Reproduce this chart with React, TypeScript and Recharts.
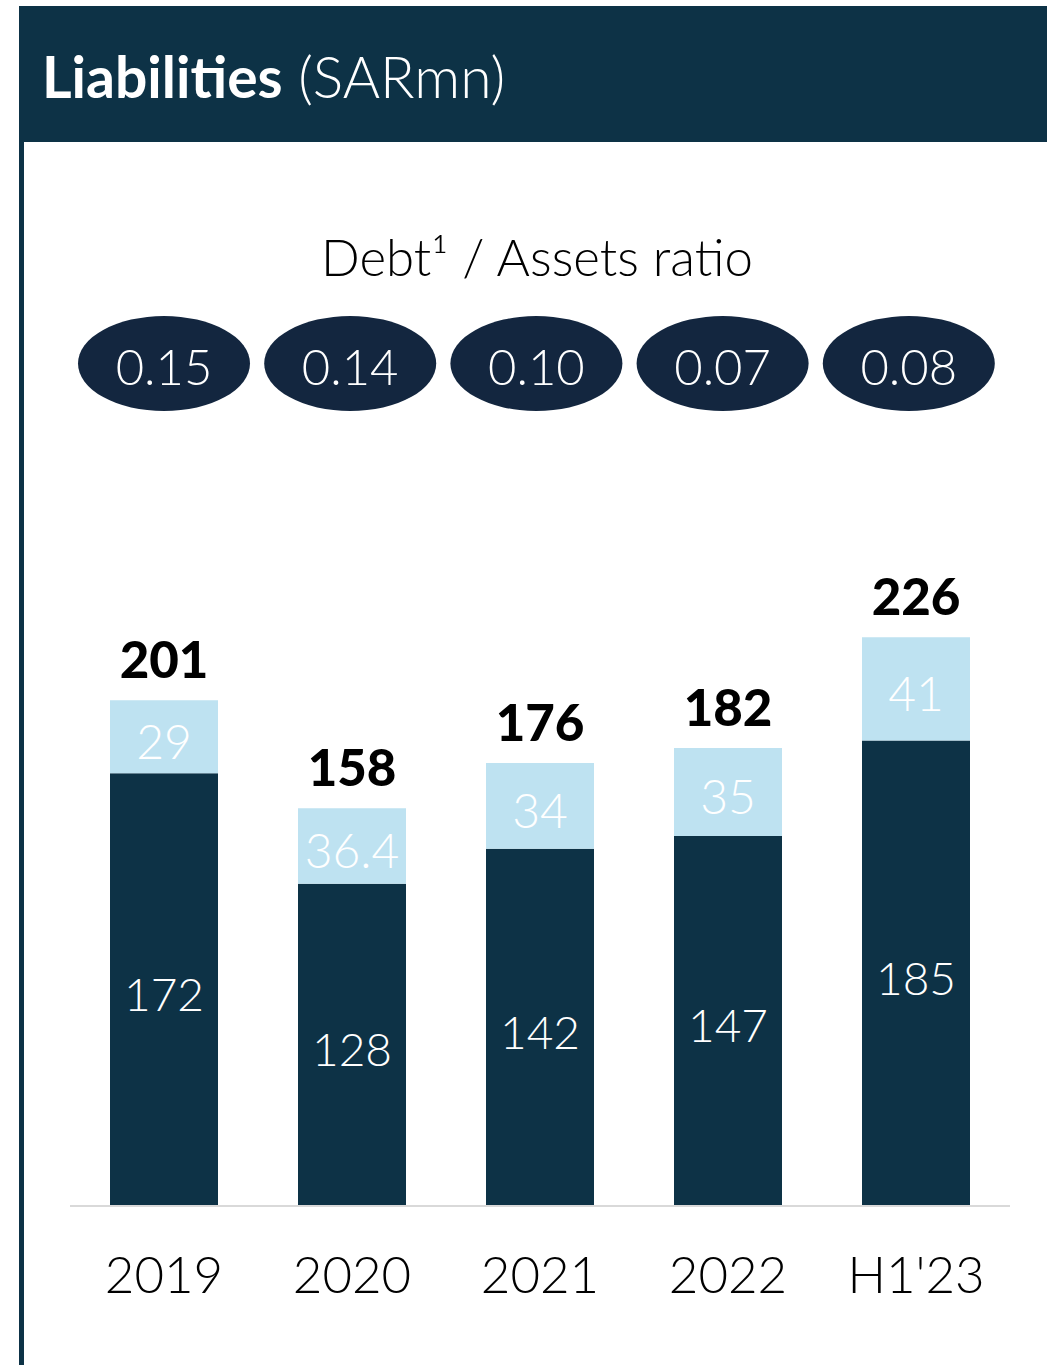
import React from "react";
import { ComposedChart, Bar, XAxis, YAxis, LabelList } from "recharts";

const categories = ["2019", "2020", "2021", "2022", "H1'23"];
const otherLiabilities = [172, 128, 142, 147, 185];
const debt = [29, 30, 34, 35, 41];
const debtLabels = ["29", "36.4", "34", "35", "41"];
const debtToAssets = ["0.15", "0.14", "0.10", "0.07", "0.08"];

const data = categories.map((c, i) => ({
  cat: c,
  dark: otherLiabilities[i],
  light: debt[i],
  lightLabel: debtLabels[i],
  total: otherLiabilities[i] + debt[i],
  ratio: debtToAssets[i],
}));

const DARK = "#0d3246";
const LIGHT = "#bee2f1";
const NAVY = "#13263f";
const FONT = "Lato, 'Open Sans', sans-serif";

const TopContent = (props: any) => {
  const { x, y, width, index } = props;
  const row = data[index];
  const cx = x + width / 2;
  return (
    <g>
      <text x={cx} y={y - 22} textAnchor="middle" fontFamily={FONT} fontWeight={900} fontSize={51} fill="#000">
        {row.total}
      </text>
      <ellipse cx={cx - index * 1.8} cy={363.5} rx={86} ry={47.5} fill={NAVY} />
      <text x={cx - index * 1.8} y={385} textAnchor="middle" fontFamily={FONT} fontWeight={300} fontSize={49} fill="#fff">
        {row.ratio}
      </text>
    </g>
  );
};

const Tick = (props: any) => {
  const { x, y, payload } = props;
  return (
    <text x={x} y={y} dy={79} textAnchor="middle" fontFamily={FONT} fontWeight={300} fontSize={51} fill="#000">
      {payload.value}
    </text>
  );
};

export default function App() {
  return (
    <div style={{ position: "absolute", left: 0, top: 0, width: 1047, height: 1365, background: "#fff", overflow: "hidden" }}>
      <div style={{ position: "absolute", left: 19, top: 6, width: 1028, height: 136, background: DARK, borderTopLeftRadius: 3 }} />
      <div style={{ position: "absolute", left: 19, top: 6, width: 5, height: 1359, background: DARK }} />
      <div
        style={{
          position: "absolute",
          left: 42,
          top: 38,
          color: "#fff",
          fontFamily: FONT,
          fontSize: 57,
          lineHeight: "76px",
          whiteSpace: "nowrap",
        }}
      >
        <span style={{ fontWeight: 700 }}>Liabilities</span>
        <span style={{ fontWeight: 300 }}> (SARmn)</span>
      </div>
      <div
        style={{
          position: "absolute",
          left: 237,
          width: 600,
          top: 224,
          textAlign: "center",
          color: "#000",
          fontFamily: FONT,
          fontWeight: 300,
          fontSize: 51,
          lineHeight: "66px",
          whiteSpace: "nowrap",
        }}
      >
        Debt¹ / Assets ratio
      </div>
      <div style={{ position: "absolute", left: 0, top: 0 }}>
        <ComposedChart
          width={1047}
          height={1365}
          data={data}
          margin={{ top: 602, right: 37, bottom: 129, left: 70 }}
          barCategoryGap={40}
        >
          <XAxis
            dataKey="cat"
            axisLine={{ stroke: "#d9d9d9", strokeWidth: 2 }}
            tickLine={false}
            tick={<Tick />}
            interval={0}
            height={30}
          />
          <YAxis hide domain={[0, 240]} />
          <Bar dataKey="dark" stackId="a" fill={DARK} isAnimationActive={false}>
            <LabelList dataKey="dark" position="center" dy={5} fill="#fff" fontFamily={FONT} fontWeight={300} fontSize={46} />
          </Bar>
          <Bar dataKey="light" stackId="a" fill={LIGHT} isAnimationActive={false}>
            <LabelList dataKey="lightLabel" position="center" dy={5} fill="#fff" fontFamily={FONT} fontWeight={300} fontSize={48} />
            <LabelList dataKey="total" content={<TopContent />} />
          </Bar>
        </ComposedChart>
      </div>
    </div>
  );
}
